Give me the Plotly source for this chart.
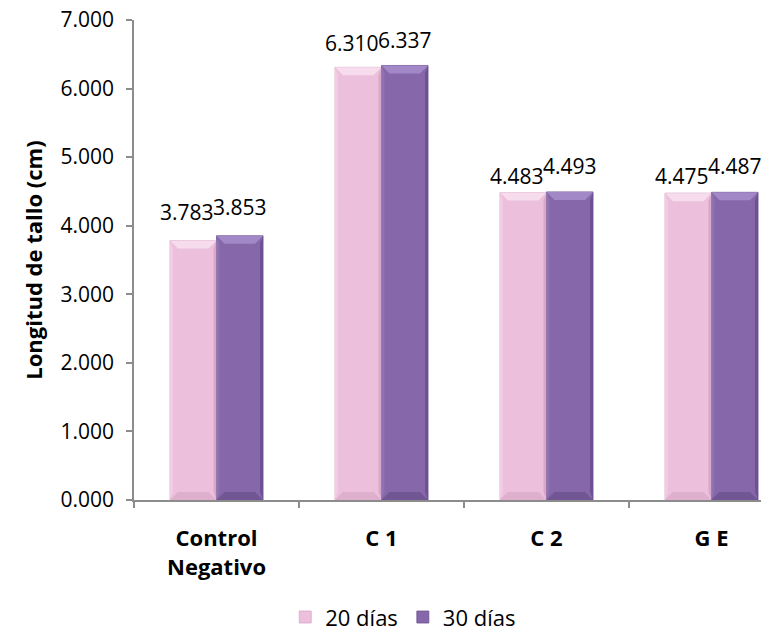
import plotly.graph_objects as go

# Stem length by treatment and day of measurement
categories = ["Control<br>Negativo", "C 1", "C 2", "G E"]
dias_20 = [3.783, 6.310, 4.483, 4.475]
dias_30 = [3.853, 6.337, 4.493, 4.487]
series_names = ["20 días", "30 días"]
y_ticks = [0, 1, 2, 3, 4, 5, 6, 7]

# vertical nudge (px) of each value label above its bar
lift_20 = [13, 8, 1, 1]
lift_30 = [13, 9, 10, 10]

FONT = "'Open Sans', Lato, sans-serif"
AXIS = "#8C8C8C"

# fill, top highlight, bottom shade, left edge, right edge
PINK = dict(fill="#ECBFDC", top="#F6DCEC", bottom="#DEB0CD", left="#F1CCE4", right="#D8A8C7")
PURPLE = dict(fill="#8567AA", top="#A288C6", bottom="#715694", left="#8E72B3", right="#6D5191")

W, H = 783, 635
M = dict(l=134, r=22, t=20, b=135)
X_RANGE = [-0.5, 3.3]
Y_RANGE = [0, 7]
BARGAP = 0.436
bar_w = (1 - BARGAP) / 2

x_idx = list(range(len(categories)))

fig = go.Figure()
for vals, name, pal in ((dias_20, series_names[0], PINK), (dias_30, series_names[1], PURPLE)):
    fig.add_trace(go.Bar(
        x=x_idx, y=vals, name=name,
        marker=dict(color=pal["fill"], line=dict(color=pal["right"], width=0.8)),
    ))

# bevel facets drawn over each bar; x in pixels around the bar centre,
# y in data units converted from the fixed plot height
px_x = (W - M["l"] - M["r"]) / (X_RANGE[1] - X_RANGE[0])
px_y = (H - M["t"] - M["b"]) / (Y_RANGE[1] - Y_RANGE[0])
hw = bar_w * px_x / 2      # half bar width, px
bev_px = 8                 # bevel depth, px
side_px = 3                # side facet width, px
bev = bev_px / px_y        # bevel depth, data units


def bevel(xc, v, pal):
    common = dict(type="path", xref="x", yref="y", xsizemode="pixel",
                  xanchor=xc, line=dict(width=0), layer="above")
    facets = [
        (f"M{-hw},{v} L{hw},{v} L{hw - bev_px},{v - bev} L{-hw + bev_px},{v - bev} Z", pal["top"]),
        (f"M{-hw},0 L{hw},0 L{hw - bev_px},{bev} L{-hw + bev_px},{bev} Z", pal["bottom"]),
        (f"M{-hw},0 L{-hw},{v} L{-hw + side_px},{v - bev} L{-hw + side_px},{bev} Z", pal["left"]),
        (f"M{hw},0 L{hw},{v} L{hw - side_px},{v - bev} L{hw - side_px},{bev} Z", pal["right"]),
    ]
    for path, col in facets:
        fig.add_shape(path=path, fillcolor=col, **common)


for vals, off, pal in ((dias_20, -bar_w / 2, PINK), (dias_30, bar_w / 2, PURPLE)):
    for i, v in enumerate(vals):
        bevel(i + off, v, pal)

# value labels above each bar
for vals, lifts, off, xs in ((dias_20, lift_20, -bar_w / 2, -6), (dias_30, lift_30, bar_w / 2, 0)):
    for i, v in enumerate(vals):
        fig.add_annotation(
            x=i + off, y=v, text=f"{v:.3f}", showarrow=False,
            yanchor="bottom", yshift=lifts[i], xshift=xs,
            font=dict(family=FONT, size=21, color="#000000"),
        )

fig.update_layout(
    width=W, height=H,
    margin=dict(M, autoexpand=False),
    paper_bgcolor="white", plot_bgcolor="white",
    barmode="group", bargap=BARGAP, bargroupgap=0,
    font=dict(family=FONT, size=21, color="#000000"),
    showlegend=True,
    legend=dict(
        orientation="h", xref="container", x=0.515, xanchor="center",
        yref="container", y=0.028, yanchor="middle",
        font=dict(family=FONT, size=22), itemwidth=30,
    ),
    xaxis=dict(
        range=X_RANGE, tickvals=x_idx, ticktext=categories, automargin=False,
        ticks="", showline=True, linecolor=AXIS, linewidth=1.5,
        showgrid=False, zeroline=False,
        tickfont=dict(family=FONT, size=22, color="#000000", weight="bold"),
        ticklabelstandoff=18,
        minor=dict(tick0=-0.5, dtick=1, ticks="outside", ticklen=6,
                   tickcolor=AXIS, tickwidth=1.5, showgrid=False),
    ),
    yaxis=dict(
        range=Y_RANGE, tickvals=y_ticks, tickformat=".3f", automargin=False,
        ticks="outside", ticklen=6, tickcolor=AXIS, tickwidth=1.5,
        showline=True, linecolor=AXIS, linewidth=1.5,
        showgrid=False, zeroline=False,
        tickfont=dict(family=FONT, size=21, color="#000000"),
        ticklabelstandoff=8,
        title=dict(text="Longitud de tallo (cm)", standoff=12,
                   font=dict(family=FONT, size=22, color="#000000", weight="bold")),
    ),
)

fig.write_html("out.html")
